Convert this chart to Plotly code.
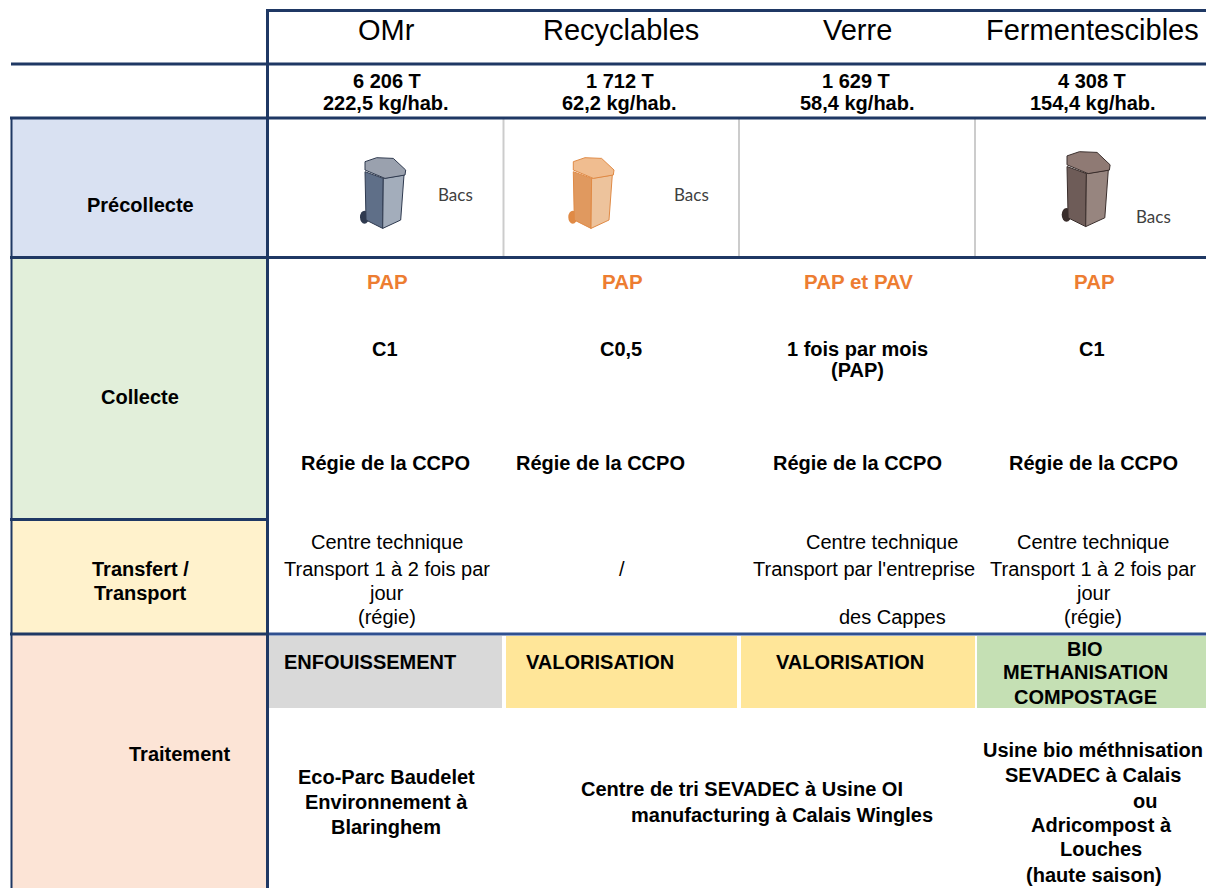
import plotly.graph_objects as go

# ---------- data (text content of the table) ----------
columns = ["OMr", "Recyclables", "Verre", "Fermentescibles"]
tonnages = ["6 206 T", "1 712 T", "1 629 T", "4 308 T"]
ratios = ["222,5 kg/hab.", "62,2 kg/hab.", "58,4 kg/hab.", "154,4 kg/hab."]
collect_mode = ["PAP", "PAP", "PAP et PAV", "PAP"]
frequency = ["C1", "C0,5", "1 fois par mois", "C1"]
operator = ["Régie de la CCPO"] * 4
treatment = ["ENFOUISSEMENT", "VALORISATION", "VALORISATION"]
treatment_bio = ["BIO", "METHANISATION", "COMPOSTAGE"]
stages = ["Précollecte", "Collecte", "Transfert /", "Transport", "Traitement"]
transfer_a = ["Centre technique", "Transport 1 à 2 fois par", "jour", "(régie)"]
transfer_c = ["Centre technique", "Transport par l'entreprise", "des Cappes"]
site_a = ["Eco-Parc Baudelet", "Environnement à", "Blaringhem"]
site_b = ["Centre de tri SEVADEC à Usine OI", "manufacturing à Calais Wingles"]
site_d = ["Usine bio méthnisation", "SEVADEC à Calais", "ou", "Adricompost à", "Louches", "(haute saison)"]

# ---------- layout helpers ----------
FONT = "Liberation Sans, Arial, sans-serif"
NAVY = "#1f3864"
shapes, notes = [], []


def rect(x0, y0, x1, y1, fill):
    shapes.append(dict(type="rect", x0=x0, x1=x1, y0=y0, y1=y1, fillcolor=fill,
                       line=dict(width=0), layer="below"))


def line(x0, y0, x1, y1, color=NAVY, width=3):
    shapes.append(dict(type="line", x0=x0, x1=x1, y0=y0, y1=y1,
                       line=dict(color=color, width=width)))


def text(s, x, y, size=20, bold=False, color="#000000", anchor="center", family=FONT):
    notes.append(dict(x=x, y=y, text=f"<b>{s}</b>" if bold else s, showarrow=False,
                      xanchor=anchor, yanchor="middle",
                      font=dict(family=family, size=size, color=color)))


def poly(points, ox, oy, k, fill, edge, width=1):
    path = "M" + " L".join(f"{ox + px * k / 3:.1f},{oy + py * k / 3:.1f}" for px, py in points) + " Z"
    shapes.append(dict(type="path", path=path, fillcolor=fill, line=dict(color=edge, width=width)))


def bin_icon(ox, oy, k, left, right, lid, edge):
    # wheel
    shapes.append(dict(type="circle", x0=ox, x1=ox + 9 * k, y0=oy + 53 * k, y1=oy + 66 * k,
                       fillcolor=edge, line=dict(width=0)))
    poly([(15, 42), (70, 62), (68, 212), (18, 187)], ox, oy, k, left, edge)
    poly([(70, 62), (132, 52), (122, 187), (68, 212)], ox, oy, k, right, edge)
    poly([(15, 12), (50, 0), (100, 2), (137, 37), (135, 52), (75, 62), (15, 37)], ox, oy, k, lid, edge)


# ---------- coloured cells ----------
rect(11, 119, 266, 257, "#d9e1f2")
rect(11, 258, 266, 519, "#e2efda")
rect(11, 520, 266, 633, "#fff2cc")
rect(11, 634, 266, 888, "#fce4d6")
rect(269, 636, 502, 708, "#d9d9d9")
rect(506, 636, 737, 708, "#ffe699")
rect(741, 636, 975, 708, "#ffe699")
rect(977, 636, 1206, 708, "#c5e0b4")

# ---------- rules ----------
for vx in (503.5, 739, 975):
    line(vx, 119, vx, 257, "#cccccc", 2)
line(267, 10.5, 1206, 10.5)
line(11, 64, 1206, 64)
line(10, 118, 1206, 118)
line(10, 257.5, 1206, 257.5)
line(10, 519.5, 267, 519.5)
line(267, 634, 1206, 634, "#2f5090", 3)
line(10, 634, 267, 634)
line(11.5, 118, 11.5, 888, NAVY, 2)
line(267.5, 9, 267.5, 888)

# ---------- bins ----------
bin_icon(360, 157.7, 1, "#5f6f88", "#a3adbb", "#9aa1ae", "#2f3a4f")
bin_icon(568.3, 157.7, 1, "#e0995f", "#edc39c", "#f0bd90", "#e08a45")
bin_icon(1061.7, 151.7, 1.06, "#6e5c58", "#97857f", "#8f7a74", "#3a2e2c")
BACS = "Lato, Carlito, sans-serif"
for bx, by in ((455, 194), (691.5, 194), (1153.5, 216)):
    text("Bacs", bx, by, 17, color="#404040", family=BACS)

# ---------- text ----------
for s, cx in zip(columns, (386.5, 621, 857, 1092)):
    text(s, cx, 30, 29)
for s, cx in zip(tonnages, (387, 620, 856, 1092)):
    text(s, cx, 81, 20, True)
for s, cx in zip(ratios, (386, 619, 857, 1093)):
    text(s, cx, 102.5, 20, True)
for s, cx in zip(collect_mode, (387, 622, 858, 1094)):
    text(s, cx, 281, 20.5, True, "#ed7d31")
for s, cx in zip(frequency, (385, 621, 857, 1092)):
    text(s, cx, 349, 20, True)
text("(PAP)", 857, 370, 20, True)
for ox, s in zip((385, 600, 857, 1093), operator):
    text(s, ox, 463, 20, True)

text(stages[0], 140, 205, 20, True)
text(stages[1], 140, 397, 20, True)
text(stages[2], 140, 569, 20, True)
text(stages[3], 140, 593, 20, True)
text(stages[4], 179, 754, 20, True)

for tx in (386.5, 1093):
    for s, ty in zip(transfer_a, (542, 569, 593, 617)):
        text(s, tx, ty, 20)
text("/", 622, 569, 20)
for s, tx, ty in zip(transfer_c, (881.5, 864, 892), (542, 569, 617)):
    text(s, tx, ty, 20)

for s, tx in zip(treatment, (369.5, 600, 850)):
    text(s, tx, 662, 20, True)
for s, ty in zip(treatment_bio, (649, 672, 697)):
    text(s, 1085, ty, 20, True)

for s, ty in zip(site_a, (777, 802, 827)):
    text(s, 386, ty, 20, True)
for s, tx, ty in zip(site_b, (742, 782), (789, 815)):
    text(s, tx, ty, 20, True)
for s, tx, ty in zip(site_d, (1093, 1093, 1145, 1101, 1101, 1094), (750, 775, 801, 825, 849, 875)):
    text(s, tx, ty, 20, True)

# ---------- figure ----------
fig = go.Figure()
fig.update_layout(
    width=1206, height=888, margin=dict(l=0, r=0, t=0, b=0),
    paper_bgcolor="white", plot_bgcolor="white", showlegend=False,
    xaxis=dict(range=[0, 1206], visible=False, fixedrange=True),
    yaxis=dict(range=[888, 0], visible=False, fixedrange=True),
    shapes=shapes, annotations=notes,
)
fig.write_html("out.html", config=dict(displayModeBar=False),
               post_script="document.body.style.margin='0';document.body.style.overflow='hidden';")
